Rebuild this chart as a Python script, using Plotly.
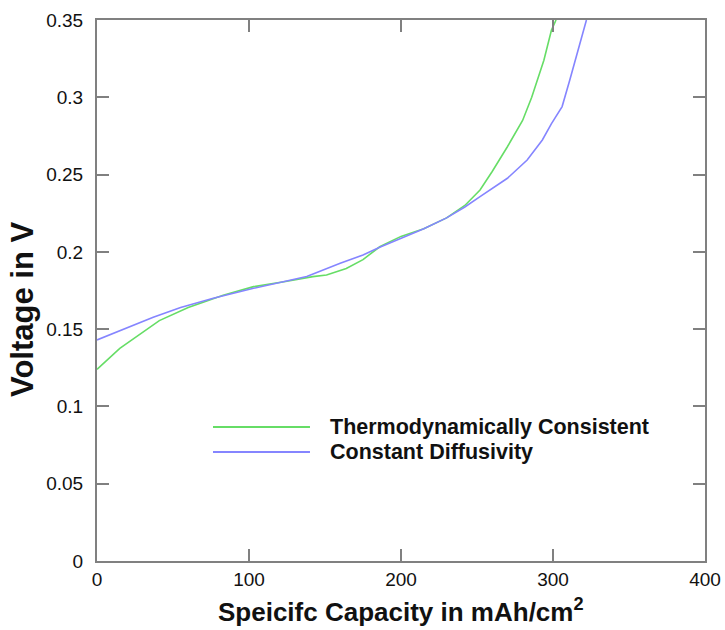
import plotly.graph_objects as go

# Thermodynamically Consistent (green)
tc_capacity = [0, 15, 41, 60, 83, 103, 125, 142, 151, 164, 175, 186, 200, 215, 230, 242,
               252, 260, 270, 280, 286, 294, 299, 302]
tc_voltage = [0.124, 0.1376, 0.1555, 0.164, 0.172, 0.1775, 0.181, 0.184, 0.185, 0.1893,
              0.195, 0.2033, 0.210, 0.215, 0.222, 0.230, 0.240, 0.252, 0.268, 0.285,
              0.300, 0.324, 0.3435, 0.35]

# Constant Diffusivity (blue)
cd_capacity = [0, 20, 37, 55, 76.5, 103, 120, 138, 160, 175, 186, 200, 215, 230, 242, 252,
               262, 270, 283, 293, 299, 306, 311, 318, 322]
cd_voltage = [0.143, 0.151, 0.1577, 0.164, 0.170, 0.1764, 0.180, 0.184, 0.1926, 0.198,
              0.203, 0.209, 0.215, 0.222, 0.229, 0.2357, 0.242, 0.2476, 0.2594, 0.2724,
              0.283, 0.294, 0.311, 0.337, 0.35]

series_names = ["Thermodynamically Consistent", "Constant Diffusivity"]
series_colors = ["#66dd66", "#8585ff"]

x_ticks = [0, 100, 200, 300, 400]
y_ticks = [0, 0.05, 0.1, 0.15, 0.2, 0.25, 0.3, 0.35]
y_tick_labels = ["0", "0.05", "0.1", "0.15", "0.2", "0.25", "0.3", "0.35"]

FONT = "Liberation Sans, Arial, sans-serif"
AXIS_COLOR = "#808080"

fig = go.Figure()
fig.add_trace(go.Scatter(x=tc_capacity, y=tc_voltage, mode="lines", name=series_names[0],
                         line=dict(color=series_colors[0], width=1.6), showlegend=False))
fig.add_trace(go.Scatter(x=cd_capacity, y=cd_voltage, mode="lines", name=series_names[1],
                         line=dict(color=series_colors[1], width=1.6), showlegend=False))

axis_common = dict(showline=True, linecolor=AXIS_COLOR, linewidth=2, mirror="ticks",
                   ticks="inside", ticklen=12, tickwidth=2, tickcolor=AXIS_COLOR,
                   showgrid=False, zeroline=False, automargin=False,
                   tickfont=dict(family=FONT, size=19, color="#111111"))

fig.update_xaxes(range=[0, 400], tickvals=x_ticks, ticktext=[str(v) for v in x_ticks],
                 ticklabelstandoff=0, **axis_common)
fig.update_yaxes(range=[0, 0.35], tickvals=y_ticks, ticktext=y_tick_labels,
                 ticklabelstandoff=8, **axis_common)

# Legend drawn manually (long sample lines)
leg_y = [0.2477, 0.2015]
for name, color, yy in zip(series_names, series_colors, leg_y):
    fig.add_shape(type="line", xref="paper", yref="paper", x0=0.1908, x1=0.3503,
                  y0=yy, y1=yy, line=dict(color=color, width=2))
    fig.add_annotation(xref="paper", yref="paper", x=0.3799, y=yy, xanchor="left",
                       yanchor="middle", showarrow=False, text="<b>%s</b>" % name,
                       font=dict(family=FONT, size=21.5, color="#111111"))

# Axis titles
fig.add_annotation(xref="paper", yref="paper", x=0.5, y=-0.0924, xanchor="center",
                   yanchor="middle", showarrow=False,
                   text="<b>Speicifc Capacity in mAh/cm<sup>2</sup></b>",
                   font=dict(family=FONT, size=26, color="#111111"))
fig.add_annotation(xref="paper", yref="paper", x=-0.1217, y=0.464, xanchor="center",
                   yanchor="middle", showarrow=False, textangle=-90,
                   text="<b>Voltage in V</b>",
                   font=dict(family=FONT, size=31, color="#111111"))

fig.update_layout(width=725, height=630, margin=dict(l=97, r=20, t=20, b=69),
                  paper_bgcolor="white", plot_bgcolor="white")

fig.write_html("out.html")
